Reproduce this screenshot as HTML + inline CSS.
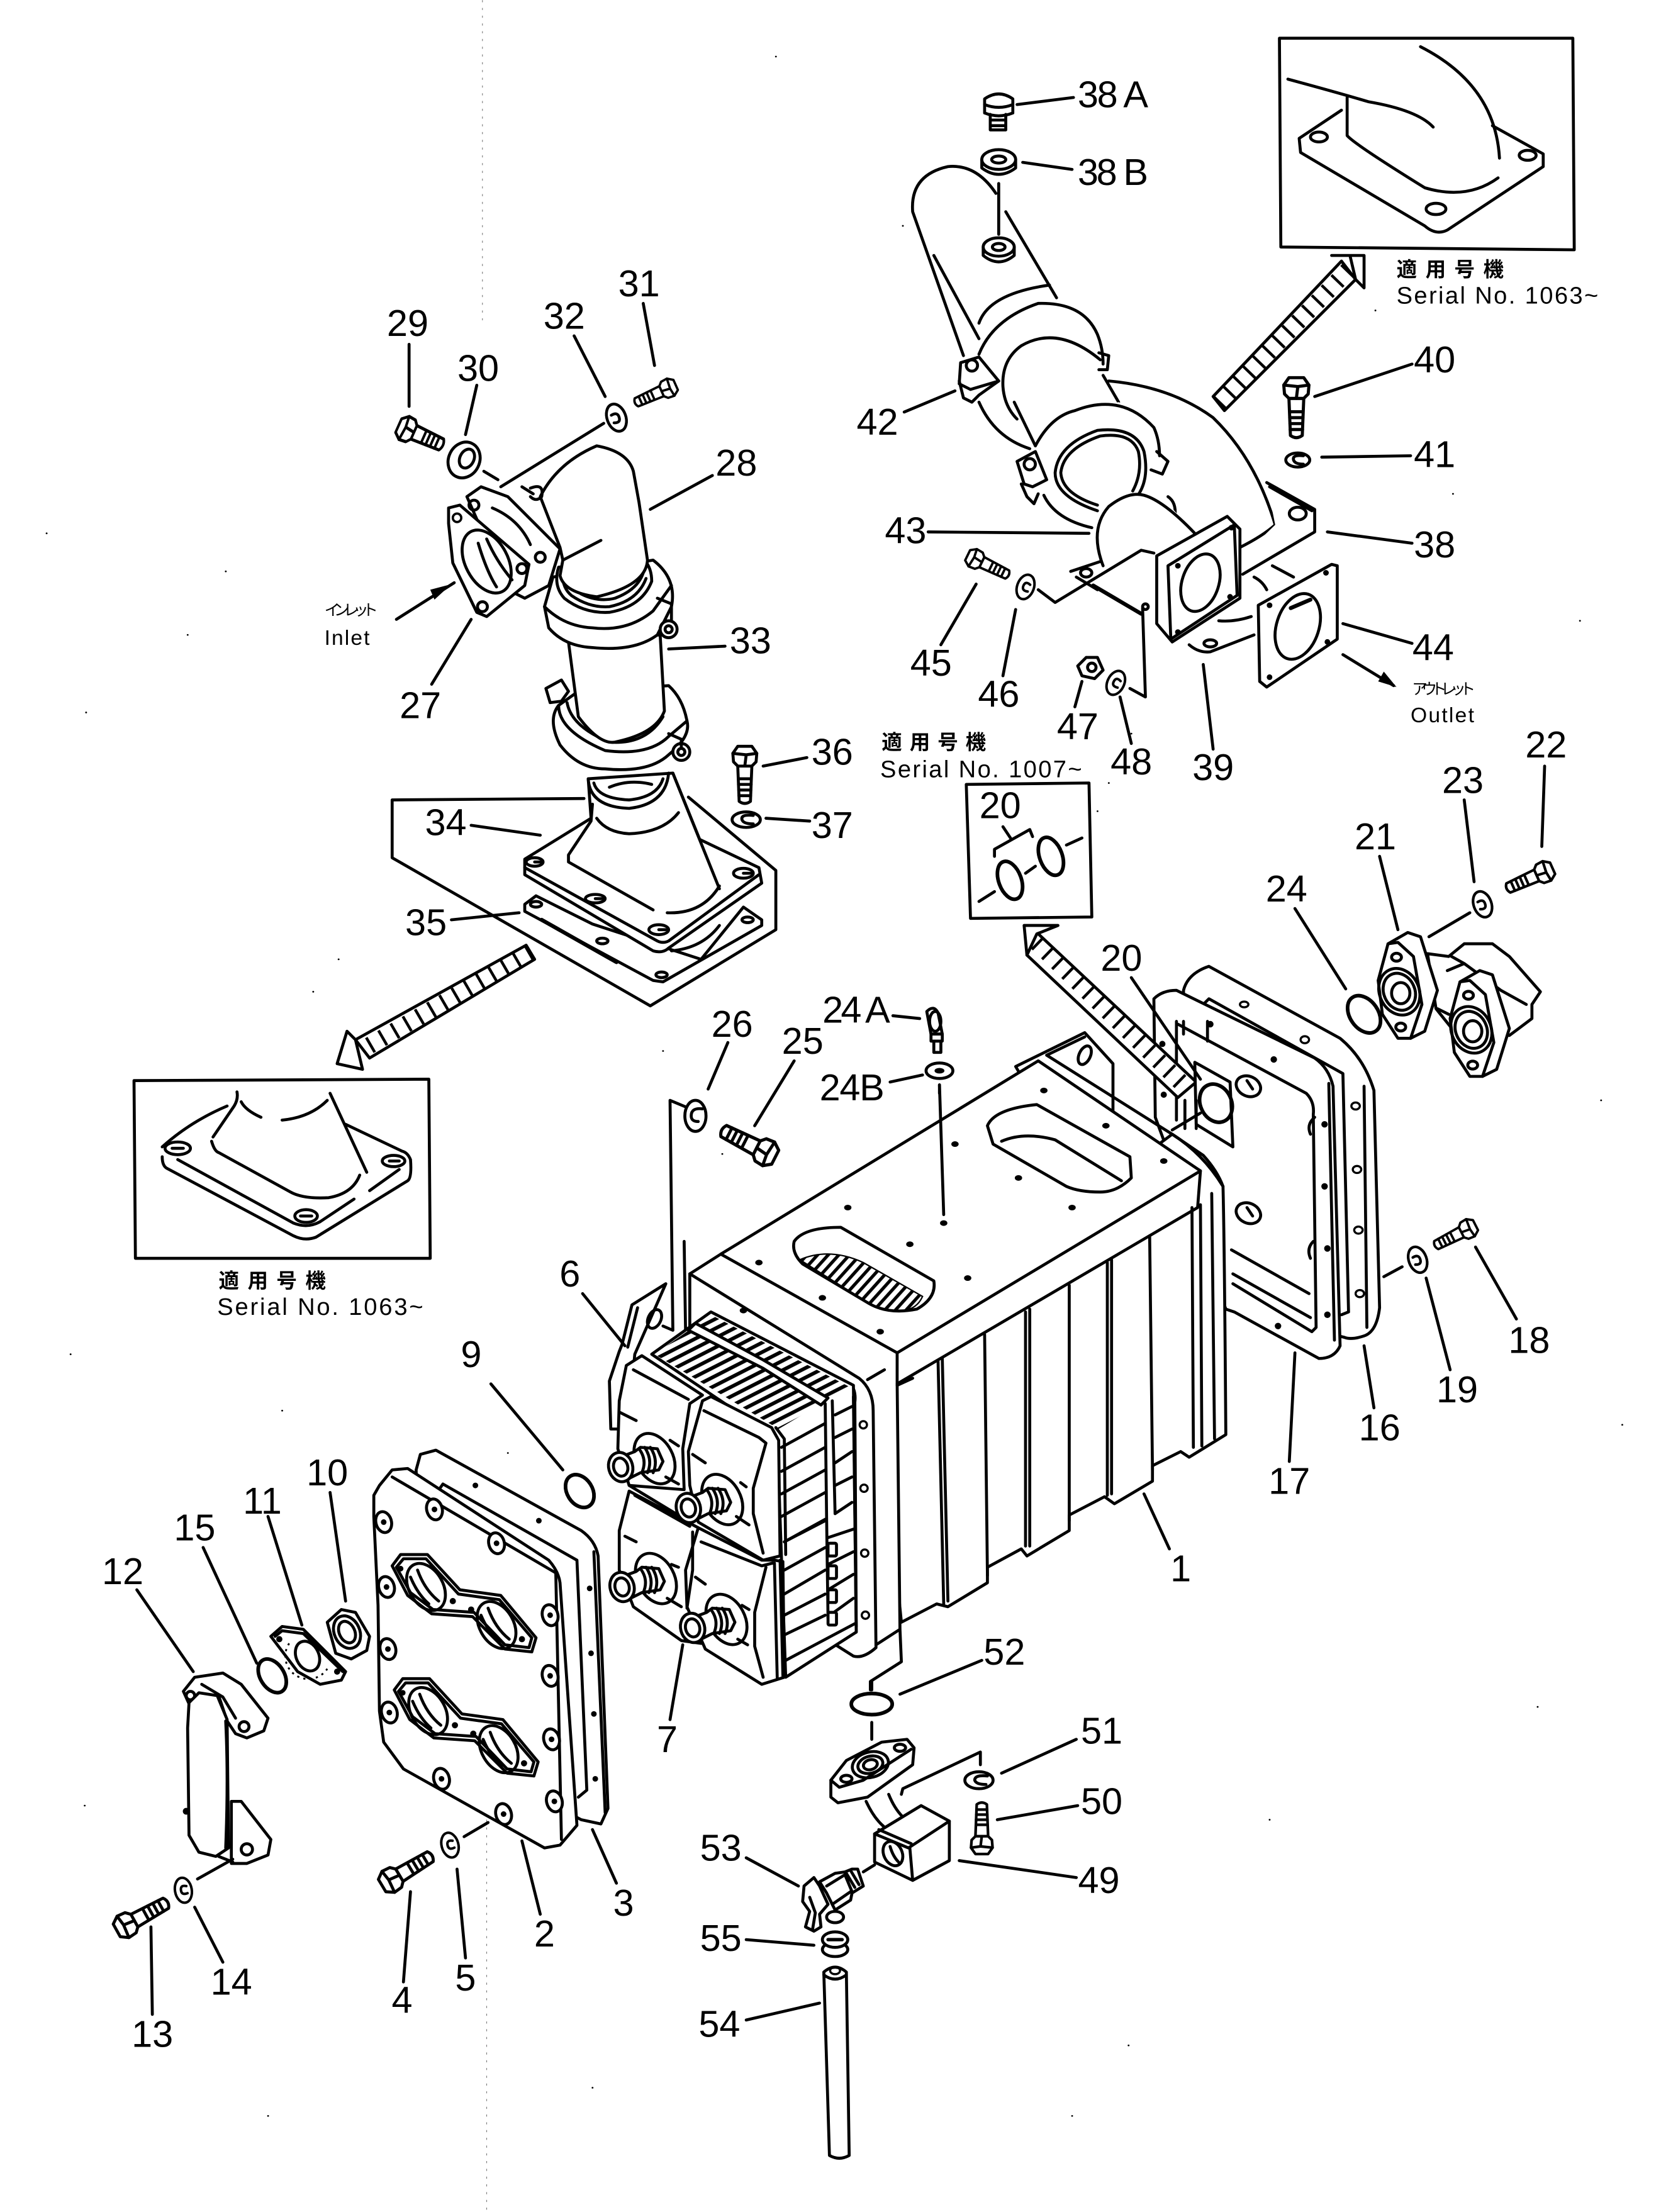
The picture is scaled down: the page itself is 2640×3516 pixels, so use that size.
<!DOCTYPE html>
<html><head><meta charset="utf-8"><style>
html,body{margin:0;padding:0;background:#fff}
svg{display:block;width:2640px;height:3516px}
.s{fill:none;stroke:#000;stroke-width:2.1;stroke-linecap:round;stroke-linejoin:round}
.w{fill:#fff}
.f{fill:#fff;stroke:none}
.r{stroke-width:2.6}
.t{font-family:"Liberation Sans",sans-serif;font-size:26.5px;fill:#000;stroke:none;text-anchor:middle}
.m{font-family:"Liberation Sans",sans-serif;font-size:17px;fill:#000;stroke:none}
.c{font-family:"Liberation Sans","Noto Sans CJK JP",sans-serif;font-size:14.5px;font-weight:700;fill:#000;stroke:none}
</style></head><body>
<svg xmlns="http://www.w3.org/2000/svg" viewBox="0 0 1177.5 1568">
<defs>
<pattern id="h" width="6" height="6" patternUnits="userSpaceOnUse" patternTransform="rotate(-27)"><rect width="6" height="2.6" fill="#000"/></pattern>
<pattern id="h2" width="5.6" height="5.6" patternUnits="userSpaceOnUse" patternTransform="rotate(-48)"><rect width="5.6" height="2.3" fill="#000"/></pattern>
<g id="bolt"><path class="s w" d="M7-5 L32-4 Q35 0 32 4 L7 5Z"/><path class="s" d="M16-4.500V4.500M20-4.500V4.500M24-4.300V4.300M28-4.200V4.200"/><path class="s w" d="M-7-5 L-2-8.500 L4-8 L7-5 L7 5 L4 8 L-2 8.500 L-7 5Z"/><path class="s" d="M-2-8.500 L-1 -1 L-2 8.500M-1-1 L7 0"/></g>
<g id="wash"><ellipse class="s w" rx="7" ry="10.500"/><path class="s" d="M3-3 Q-2-5-2 0 Q-2 4 3 3"/></g>
<g id="nip"><ellipse class="s w" cx="24" cy="-6" rx="13" ry="19" transform="rotate(-28 24 -6)"/><path class="s w" d="M2-8 L10-11 L14-14 L26-13 L30-4 L27 2 L14 4 L4 9Z"/><path class="s" d="M13-13 Q19-5 15 4M17-14 Q23-5 19 4M21-14 Q27-5 23 4"/><ellipse class="s w" rx="8.500" ry="10.500" transform="rotate(-15)"/><ellipse class="s" rx="5" ry="6.500" transform="rotate(-15)"/></g>
<g id="fl21"><path class="s w" d="M984 669 L998 661 L1007 664 L1019 702 L1010 731 L1000 736Z"/><path class="s w" d="M977 695 L984 669 L991 668 L1002 678 L1008 712 L1000 736 L991 736 L980 719Z"/><ellipse class="s" cx="992" cy="703" rx="14" ry="17" transform="rotate(-25 992 703)"/><ellipse class="s" cx="992" cy="703" rx="11" ry="13.500" transform="rotate(-25 992 703)"/><ellipse class="s" cx="993" cy="704" rx="6.500" ry="7.500"/><ellipse class="s" cx="990" cy="678.500" rx="3.500" ry="2.800"/><ellipse class="s" cx="993" cy="728" rx="3.500" ry="2.800"/></g>
<g id="boss"><ellipse class="s w" rx="5.500" ry="7.500" transform="rotate(-15)"/><circle r="2" fill="#000"/></g>
<g id="pl"><path class="s w" d="M278 1110 L284 1102 L303 1102 L326 1127 L355 1131 L380 1161 L377 1171 L358 1169 L335 1146 L306 1144 L289 1131Z"/><path class="s" d="M281 1111 L286 1105 L302 1105 L325 1130 L354 1134 L377 1161 L375 1168 L358 1166 L336 1143 L307 1141 L291 1129Z"/><ellipse class="s" cx="302" cy="1125" rx="12" ry="18" transform="rotate(-30 302 1125)"/><ellipse class="s" cx="352" cy="1152" rx="12" ry="18" transform="rotate(-30 352 1152)"/><path class="s" d="M296 1113 Q301 1127 311 1135M291 1118 Q296 1130 304 1137M346 1140 Q351 1154 361 1162M341 1145 Q346 1157 354 1164"/><circle cx="284" cy="1112" r="2" fill="#000"/><circle cx="321" cy="1135" r="2.200" fill="#000"/><circle cx="334" cy="1141" r="2.200" fill="#000"/><circle cx="370" cy="1162" r="2.200" fill="#000"/></g>
</defs>

<!-- scan specks and dotted lines -->
<path stroke="#777" stroke-width="0.5" stroke-dasharray="1.500 4" fill="none" d="M342 0V230M345 1290V1568"/>
<path class="s" style="stroke-width:1.200" d="M160 405h.1M133 450h.1M61 505h.1M33 378h.1M778 575h.1M786 555h.1M802 520h.1M470 745h.1M360 1030h.1M512 818h.1M240 680h.1M222 703h.1M1120 440h.1M1135 780h.1M1150 1010h.1M1090 1210h.1M900 1290h.1M800 1450h.1M760 1500h.1M420 1480h.1M190 1500h.1M60 1280h.1M50 960h.1M200 1000h.1M975 220h.1M640 160h.1M550 40h.1M1030 350h.1"/>

<!-- INSET TOP RIGHT -->
<path class="s" d="M907 27 L1115 27 L1116 177 L908 175Z"/>
<path class="s" d="M921 98 L951 78M1058 89 L1094 109 L1094 118 L1026 163 Q1018 167 1010 160 L922 108 L921 98"/>
<path class="s" d="M913 56 Q950 66 970 72 Q1005 78 1016 90M1007 33 Q1060 60 1063 112M955 69 V96 Q960 102 1010 133 Q1040 142 1062 126"/>
<ellipse class="s" cx="935" cy="97" rx="6" ry="3.500"/><ellipse class="s" cx="1018" cy="148" rx="7" ry="4"/><ellipse class="s" cx="1083" cy="110" rx="6" ry="3.500"/>
<!-- arrow 1 -->
<path class="s w" d="M860 281 L951 185 L961 198 L868 291Z"/>
<path d="M864 286 L956 191" stroke="#000" stroke-width="12" stroke-dasharray="2 8" fill="none"/>
<path class="s w" d="M944 181 H967 V204 L961 198 L957 181"/>
<!-- ELBOW 38 -->
<path class="f" d="M786 270 Q830 274 860 296 Q890 325 904 372 L879 388 L800 420 L734 316Z"/>
<path class="s" d="M786 270 Q830 274 860 296 Q890 325 904 372 Q895 380 879 388"/>
<path class="f" d="M898 342 L932 361 V377 L881 407 L880 395 L904 372Z"/>
<path class="s" d="M898 342 L932 361 V377 L881 407M900 345 L930 362"/>
<ellipse class="s" cx="920" cy="364" rx="6" ry="4.500"/>
<!-- top pipe -->
<path class="f" d="M706 137 Q692 116 672 118 Q645 124 647 150 L683 252 L694 289 L734 318 L793 285 L749 211 L713 150Z"/>
<path class="s" d="M706 137 Q692 116 672 118 Q645 124 647 150 L683 252M713 150 L749 211M662 181 L694 240"/>
<path class="s" d="M694 229 Q701 208 744 202"/>
<!-- clamp 1 -->
<path class="f" d="M694 253 Q700 234 713 222 Q735 212 763 218 Q778 228 782 255 L786 266 L780 262 Q772 240 748 238 Q725 240 716 250 Q708 262 711 274 L696 277Z"/>
<path class="s" d="M694 251 Q704 226 736 215 Q768 214 778 237 Q782 247 782 258M711 274 Q710 255 724 245 Q750 230 780 255M711 274 Q712 288 721 297M694 285 Q705 310 730 318M719 285 L734 316M782 266 L793 285M779 250 L786 252 L785 262 L779 262"/>
<path class="s w" d="M681 257 L694 253 L708 270 L688 276 L680 272Z"/>
<circle class="s" cx="689" cy="259" r="4"/><path class="s" d="M680 270 L683 282 L689 285 L694 280 L708 270"/>
<!-- clamp 2 -->
<path class="f" d="M734 316 Q750 292 793 285 Q815 292 822 322 L815 360 L780 365 L745 355 L725 335Z"/>
<path class="s" d="M734 316 Q745 295 762 291 Q795 278 818 303 Q822 312 822 323"/>
<path class="s" d="M778 362 Q748 352 748 335 Q750 315 778 305 Q805 302 811 320 Q815 340 806 352M778 358 Q753 350 752 335 Q754 318 780 309 Q802 306 807 320 Q810 335 803 348M740 351 Q748 368 774 374"/>
<path class="s w" d="M721 327 L734 320 L742 340 L732 345 L726 343Z"/>
<circle class="s" cx="730" cy="329" r="4"/>
<path class="s" d="M724 343 L728 352 L733 357 L736 350M820 320 L828 327 L824 336 L816 333"/>
<path class="s" d="M828 352 Q834 356 833 366"/>
<!-- outlet stub -->
<path class="f" d="M786 359 Q800 348 811 351 L828 357 L847 378 L830 420 L786 407 Q772 380 786 359Z"/>
<path class="s" d="M786 359 Q800 348 811 351 Q825 355 847 378M786 359 Q772 375 782 401"/>
<path class="s" d="M759 405 L780 398M763 409 L778 418"/><ellipse class="s" cx="770" cy="406" rx="4" ry="3"/>
<path class="s" d="M775 415 L809 435" style="stroke-width:2.800"/>
<path class="s" d="M736 418 L748 427 L809 390 L818 392"/>
<path class="s w" d="M820 394 L870 366 L879 375 L879 424 L831 455 L820 442Z"/>
<path class="s" d="M828 401 L875 372 L877 422 L830 453Z"/>
<ellipse class="s" cx="851" cy="413" rx="13" ry="21" transform="rotate(18 851 413)"/>
<circle cx="835" cy="401" r="2" fill="#000"/><circle cx="873" cy="374" r="2" fill="#000"/><circle cx="872" cy="423" r="2" fill="#000"/><circle cx="835" cy="448" r="2" fill="#000"/>
<path class="s" d="M843 457 Q850 463 858 462 L889 450M864 440 Q875 441 887 437"/><ellipse class="s" cx="858" cy="456" rx="4.500" ry="2.500"/>
<path class="s" d="M810 431 L812 494 L801 488"/><circle class="s" cx="812" cy="430" r="2"/>
<!-- 44 gasket -->
<path class="s w" d="M892 429 L944 400 L948 401 L948 453 L898 487 L893 483Z"/>
<ellipse class="s" cx="920" cy="444" rx="15" ry="24" transform="rotate(18 920 444)"/>
<path class="s" d="M915 431 L929 425" style="stroke-width:2.800"/>
<circle cx="900" cy="429" r="2" fill="#000"/><circle cx="940" cy="406" r="2" fill="#000"/><circle cx="941" cy="455" r="2" fill="#000"/><circle cx="900" cy="480" r="2" fill="#000"/>
<path class="s" d="M889 409 Q895 412 898 418M902 401 L917 409"/>
<path class="s" d="M952 464 L988 486"/><path d="M990 487 L977 483 L981 476Z" fill="#000"/>
<!-- parts top -->
<path class="s w" d="M698 70 Q708 63 718 70 V80 Q708 84 698 80Z"/><path class="s" d="M702 81 V92 H713 V81M702 85 H713M702 89 H713M698 74 Q708 78 718 74"/>
<path class="s w" d="M696 113 V119 Q708 128 720 119 V113"/><ellipse class="s w" cx="708" cy="113" rx="12" ry="7"/><ellipse class="s" cx="708" cy="113" rx="5" ry="2.500"/>
<path class="s" d="M708 130 V166"/>
<path class="s w" d="M697 175 V181 Q708 190 719 181 V175"/><ellipse class="s w" cx="708" cy="175" rx="11" ry="6.500"/><ellipse class="s" cx="708" cy="175" rx="4.500" ry="2.500"/>
<use href="#bolt" transform="translate(919 275) rotate(90) scale(1.050)"/>
<ellipse class="s" cx="920" cy="326" rx="8.500" ry="5"/><path class="s" d="M924 323 Q916 322 917 326 Q918 329 924 329"/>
<use href="#bolt" transform="translate(691 396) rotate(26) scale(.8)"/>
<use href="#wash" transform="translate(727 416) rotate(20) scale(.85)"/>
<path class="s" d="M770 466 L778 466 L782 475 L776 481 L767 479 L764 472Z"/><circle class="s" cx="774" cy="473" r="3"/>
<use href="#wash" transform="translate(791 484) rotate(25) scale(.85)"/>
<!-- leaders top -->
<path class="s" d="M721 74 L761 69M725 115 L760 120M932 281 L1001 258M937 324 L1000 323M641 292 L677 277M658 377 L772 378M941 377 L1001 385M952 442 L1001 456M692 414 L667 457M720 432 L711 479M767 483 L762 501M794 494 L802 527M853 471 L860 531"/>

<!-- LEFT ASSEMBLY 27-37 -->
<path class="s" d="M414 566 L278 567 V608 L461 713 L550 659 V617 L488 565"/>
<!-- gasket 35 -->
<path class="s w" d="M372 641 L380 635 L420 655 L497 680 L527 643 L540 652 V656 L470 696 L463 695 L372 646Z"/>
<ellipse class="s" cx="380" cy="641" rx="4" ry="2"/><ellipse class="s" cx="427" cy="667" rx="4" ry="2"/><ellipse class="s" cx="469" cy="691" rx="4" ry="2"/><ellipse class="s" cx="530" cy="652" rx="4" ry="2"/>
<path class="s" style="stroke-width:2.800" d="M384 652 L437 682"/>
<path class="s" d="M476 674 Q498 672 510 656"/>
<!-- plate 34 -->
<path class="s w" d="M419 580 L372 609 V620 L463 674 Q470 676 474 672 L540 626 L538 615 L496 595 L477 548 L417 552Z"/>
<path class="s" d="M372 615 L466 667 Q470 669 474 667 L538 620"/>
<ellipse class="s" cx="379" cy="611" rx="6" ry="3"/><ellipse class="s" cx="422" cy="637" rx="7" ry="3"/><ellipse class="s" cx="467" cy="659" rx="7" ry="3.500"/><ellipse class="s" cx="527" cy="619" rx="7" ry="3.500"/>
<path class="s" d="M379 611 H384M422 637 H427M467 659 H472M527 619 H532"/>
<path class="s" d="M420 570 L419 582 L403 606 V611 L463 645M477 548 L510 630M423 580 Q430 590 446 591 Q470 590 481 576M473 647 Q498 648 510 628"/>
<path class="s" d="M417 552 Q418 572 446 573 Q472 570 474 548M421 555 Q424 566 446 567 Q466 565 470 552M432 558 Q446 552 462 556"/>
<!-- lower clamp -->
<path class="s w" d="M396 500 Q388 510 397 528 Q410 545 429 545 Q460 548 474 535 Q490 522 487 511 Q484 495 474 486 L410 490Z"/>
<path class="s" d="M396 500 Q396 518 429 532 Q460 536 474 522 L487 511M402 498 Q405 515 432 526 Q458 528 470 508"/>
<path class="s w" d="M387 488 L398 482 L403 490 L398 497 L390 498Z"/>
<circle class="s w" cx="483" cy="533" r="6"/><circle class="s" cx="483" cy="533" r="2.500"/>
<path class="s" d="M474 520 L483 524 L483 530"/>
<!-- middle pipe -->
<path class="s w" d="M403 455 L410 508 Q425 528 436 526 Q465 520 471 504 L468 450Z"/>
<!-- upper clamp -->
<path class="s w" d="M392 409 L386 430 L389 445 Q400 458 420 459 Q450 462 466 450 L476 430 Q480 410 463 397Z"/>
<path class="s" d="M386 430 Q400 444 420 445 Q445 448 463 433L476 415"/>
<path class="s w" d="M396 402 Q392 415 400 424 Q414 435 432 434 Q455 430 462 412 Q462 402 456 396Z"/>
<path class="s" d="M399 405 Q398 416 405 422 Q418 431 432 430 Q452 426 458 410M403 406 Q404 416 412 421 Q424 427 436 424 Q452 418 456 406"/>
<circle class="s w" cx="474" cy="446" r="6"/><circle class="s" cx="474" cy="446" r="2.500"/><path class="s" d="M466 424 L476 428 L476 440"/>
<!-- elbow 28 -->
<path class="s w" d="M383 352 Q395 328 423 316 Q445 320 449 334 L453 356 L459 397 Q458 415 423 423 Q400 420 397 408 L399 397 L397 388Z"/>
<path class="s" d="M399 397 L426 383"/>
<path class="s" d="M343 334 L353 340"/>
<path class="s" d="M428 300 L355 345M370 345 L378 350 M376 346 Q386 342 384 352 Q380 356 376 352"/>
<!-- flange 27-28 -->
<path class="s w" d="M331 352 L341 345 L360 352 L397 389 L389 415 L372 424 L360 418 Z"/>
<path class="s w" d="M318 360 L326 358 L375 400 L372 415 L345 437 L338 434 L321 399 L318 371Z"/>
<ellipse class="s" cx="345" cy="398" rx="15" ry="24" transform="rotate(-28 345 398)"/>
<path class="s" d="M339 385 Q345 405 352 416M345 382 Q352 398 363 411"/>
<circle cx="324" cy="367" r="3" fill="none" stroke="#000" stroke-width="1.600"/><circle class="s" cx="370" cy="403" r="3.500"/><circle class="s" cx="342" cy="430" r="3.500"/><circle class="s" cx="336" cy="358" r="3.500"/><circle class="s" cx="383" cy="395" r="3.500"/>
<path class="s" d="M349 360 Q368 368 376 386"/>
<use href="#bolt" transform="translate(288 304) rotate(24) scale(.85 1.050)"/>
<ellipse class="s w" cx="329" cy="326" rx="11" ry="13" transform="rotate(25 329 326)"/><ellipse class="s" cx="331" cy="325" rx="5" ry="7" transform="rotate(25 331 325)"/>
<use href="#bolt" transform="translate(474 275) rotate(156) scale(.78)"/>
<use href="#wash" transform="translate(437 296) rotate(160) scale(.95)"/>
<use href="#bolt" transform="translate(528 536) rotate(90) scale(1)"/>
<ellipse class="s" cx="529" cy="581" rx="10" ry="5.500"/><path class="s" d="M534 578 Q525 577 526 581 Q527 584 534 584"/>
<path class="s" d="M290 244 V288M338 273 L330 308M456 215 L464 259M407 238 L429 281M461 361 L505 337M474 460 L514 458M334 439 L306 485M281 439 L322 413M334 585 L383 592M320 652 L368 647M541 543 L572 537M543 580 L574 582"/>
<path d="M320 414 L305 418 L308 425Z" fill="#000"/>
<!-- arrow 2 -->
<path class="s w" d="M373 670 L379 680 L262 750 L252 737Z"/>
<path d="M376 675 L257 744" stroke="#000" stroke-width="12" stroke-dasharray="2 8" fill="none"/>
<path class="s w" d="M246 731 L239 754 L257 758 L252 737Z"/>
<!-- INSET LEFT -->
<path class="s" d="M95 766 L304 765 L305 892 L96 892Z"/>
<path class="s" d="M115 813 Q135 795 161 784M115 820 Q115 826 118 828 L208 876 Q216 880 224 877 L289 837 Q292 835 291 822 Q289 817 285 816 L245 797M126 822 L208 867 Q218 871 227 866 L251 850M262 844 L283 829M168 774 Q169 779 166 784 L151 806M150 809 Q152 816 155 817 L206 845 Q215 850 233 849 Q250 846 255 833M234 775 L260 831M171 781 Q174 787 185 792M200 794 Q220 792 232 780"/>
<ellipse class="s" cx="126" cy="814" rx="9" ry="4.500"/><ellipse class="s" cx="217" cy="862" rx="8" ry="4.500"/><ellipse class="s" cx="279" cy="823" rx="8" ry="4"/>
<path class="s" d="M122 814 H130M213 862 H221M276 823 H283"/>

<!-- REAR COVERS -->
<path class="s w" d="M839 702 Q842 690 857 685 L950 736 Q967 750 974 773 L978 927 Q976 944 967 947 Q958 950 953 948 L880 930 L840 800Z"/>
<path class="s" d="M967 770 L969 941M853 712 L857 708 L952 761 L956 930 L951 932"/>
<g fill="none" stroke="#000" stroke-width="1.500"><ellipse cx="882" cy="712" rx="3" ry="2"/><ellipse cx="925" cy="737" rx="3" ry="2.500"/><ellipse cx="961" cy="784" rx="3" ry="2.500"/><ellipse cx="962" cy="829" rx="3" ry="2.500"/><ellipse cx="963" cy="872" rx="3" ry="2.500"/><ellipse cx="964" cy="917" rx="3" ry="2.500"/></g>
<path class="s w" d="M818 708 Q824 702 834 702 L932 750 Q942 757 945 770 L950 954 Q946 963 935 963 L875 930 L869 928 L819 792Z"/>
<path class="s" d="M942 768 L946 950M835 726 L926 775 Q932 781 931 790 L933 941 L930 944 L874 910M873 886 L928 917M874 903 L929 934M834 724 V794"/>
<circle cx="858" cy="726" r="2.300" fill="#000"/><circle cx="903" cy="751" r="2.300" fill="#000"/><circle cx="939" cy="797" r="2.300" fill="#000"/><circle cx="939" cy="841" r="2.300" fill="#000"/><circle cx="941" cy="885" r="2.300" fill="#000"/><circle cx="941" cy="932" r="2.300" fill="#000"/><circle cx="906" cy="940" r="2.300" fill="#000"/>
<ellipse class="s" cx="885" cy="770" rx="9" ry="7" transform="rotate(25 885 770)"/><ellipse class="s" cx="885" cy="860" rx="9" ry="7" transform="rotate(25 885 860)"/>
<path class="s" d="M884 766 L888 772M884 856 L888 862M932 792 Q926 797 929 804M931 880 Q926 885 929 892"/>
<!-- arrow 3 -->
<path class="s w" d="M735 661 L848 767 L835 778 L728 677Z"/>
<path d="M735 668 L841 771" stroke="#000" stroke-width="12" stroke-dasharray="2 8" fill="none"/>
<path class="s w" d="M726 656 H750 L735 662 L728 677Z"/>
<!-- plate in back -->
<path class="s w" d="M847 753 L872 767 L874 813 L848 797Z"/>
<ellipse class="s r" cx="862" cy="782" rx="11" ry="14" transform="rotate(-25 862 782)"/>
<path class="s" d="M831 801 L851 789M802 693 L851 765M839 724 V733M856 724 V738M840 780 V800M848 780 V800"/>
<circle cx="824" cy="740" r="2.200" fill="#000"/><circle cx="825" cy="776" r="2.200" fill="#000"/>
<!-- right parts -->
<path class="s w" d="M1012 676 L1027 678 L1038 669 H1058 L1070 678 L1092 703 L1086 712 V722 L1070 734 L1030 730 L1018 715Z"/>
<path class="s" d="M1029 678 L1038 683 L1064 702 L1082 712M1026 688 L1038 683M1019 715 L1027 719"/>
<use href="#fl21"/>
<use href="#fl21" transform="translate(51 27)"/>
<use href="#bolt" transform="translate(1095 618) rotate(156) scale(.88)"/>
<use href="#wash" transform="translate(1051 641) rotate(160) scale(.9)"/>
<ellipse class="s r" cx="967" cy="719" rx="10" ry="14.500" transform="rotate(-35 967 719)"/>
<use href="#bolt" transform="translate(1041 871) rotate(153) scale(.8)"/>
<use href="#wash" transform="translate(1005 893) rotate(160) scale(.9)"/>
<path class="s" d="M1095 543 L1093 600M1038 567 L1045 625M978 607 L991 659M1013 664 L1042 647M918 644 L954 701M1046 884 L1075 935M1011 906 L1028 971M981 905 L994 898M967 954 L974 998M918 959 L914 1036"/>

<!-- MAIN BODY -->
<path class="s w" d="M720 756 L769 732 L789 754 V790 L740 790Z"/>
<ellipse class="s" cx="769" cy="748" rx="4" ry="7" transform="rotate(25 769 748)"/>
<path class="s" d="M742 748 L769 735"/>
<path class="s w" d="M639 1150 L664 1137 L672 1139 L700 1122 V1111 L724 1098 L728 1103 L758 1085 V1074 L783 1061 L790 1066 L817 1050 V1039 L837 1029 L843 1033 L869 1017 Q868 880 867 841 Q863 830 853 819 L831 804 L620 960Z"/>
<path class="s" d="M859 846 L861 1020"/>
<path class="s" d="M668 963 L672 1135M665 965 L669 1137M698 946 L700 1117M730 928 V1096M727 930 V1096M758 911 V1078M788 893 V1059M785 895 V1060M815 876 L817 1042M845 856 L846 1026M851 854 L852 1025"/>
<!-- front frame -->
<path class="f" d="M489 903 L511 889 L636 959 V981 L638 1155 L639 1178 L617 1192 L605 1174 L586 1162 L489 1090Z"/>
<path class="s" d="M489 903 L609 977 Q619 985 619 1000 L621 1168 Q612 1176 605 1174 L586 1162"/>
<path class="s" d="M493 938 L603 981 Q607 986 606 994 L607 1153 L598 1154"/>
<path class="s" d="M636 981 L638 1155 L639 1178 L617 1192 V1198M621 1166 L638 1155"/>
<path class="s" d="M489 903 V941"/>
<path class="s w" d="M511 889 L736 752 L851 830 L636 959Z"/>
<path class="s" d="M636 959 V981 L849 856 L851 830"/>
<path class="s" d="M742 748 L831 804 Q853 818 867 841"/>
<path class="s" d="M489 903 L511 889"/>
<path class="s w" d="M563 880 Q570 870 596 870 L662 908 Q664 920 650 928 Q630 932 616 924 L569 896Q561 888 563 880Z"/>
<path d="M567 893 Q588 884 612 895 L654 919 Q650 928 640 929 Q625 930 616 924Z" fill="url(#h2)" stroke="#000" stroke-width="1"/>
<path class="s w" d="M700 798 Q705 786 735 783 L801 820 L802 835 Q792 845 780 845 Q765 845 756 841 L704 811 Z"/>
<path class="s" d="M710 809 Q726 802 748 808 L795 837"/>
<g fill="#000"><ellipse cx="601" cy="856" rx="2.600" ry="2"/><ellipse cx="677" cy="811" rx="2.600" ry="2"/><ellipse cx="740" cy="773" rx="2.600" ry="2"/><ellipse cx="784" cy="798" rx="2.600" ry="2"/><ellipse cx="825" cy="823" rx="2.600" ry="2"/><ellipse cx="760" cy="856" rx="2.600" ry="2"/><ellipse cx="722" cy="835" rx="2.600" ry="2"/><ellipse cx="669" cy="867" rx="2.600" ry="2"/><ellipse cx="645" cy="882" rx="2.600" ry="2"/><ellipse cx="686" cy="906" rx="2.600" ry="2"/><ellipse cx="624" cy="944" rx="2.600" ry="2"/><ellipse cx="583" cy="920" rx="2.600" ry="2"/><ellipse cx="538" cy="895" rx="2.600" ry="2"/><ellipse cx="527" cy="929" rx="2.600" ry="2"/></g>
<path class="s" d="M666 769 L669 861"/>
<path class="s" d="M615 978 L627 971M636 982 L647 977"/>
<g fill="none" stroke="#000" stroke-width="1.500"><ellipse cx="612" cy="1010" rx="2.600" ry="2.600"/><ellipse cx="612.500" cy="1055" rx="2.600" ry="2.600"/><ellipse cx="613" cy="1101" rx="2.600" ry="2.600"/><ellipse cx="613.500" cy="1145" rx="2.600" ry="2.600"/></g>
<!-- bracket left -->
<path class="s w" d="M472 910 L448 925 L441 953 L439 958 L432 979 L433 1013 L445 1013 L450 960Z"/>
<path class="s" d="M452 927 L445 955"/>
<ellipse class="s" cx="464" cy="935" rx="4.500" ry="7" transform="rotate(25 464 935)"/>
<path class="s" d="M487 785 L475 780 L477 943 L470 940M485 880 L486 943"/>
<!-- radiator core -->
<path class="s w" d="M462 960 L504 930 L605 982 L607 1157 L557 1189 L551 1020Z"/>
<path d="M464 960 L504 932 L602 983 L552 1013Z" fill="url(#h)"/>
<path class="s w" d="M493 938 L541 964 L587 991 L582 996 L541 970 L488 943Z"/>
<path class="s" d="M554 1026 L585 1009M554 1043 L585 1026M554 1059 L585 1042M554 1075 L585 1058M556 1093 L585 1077M556 1113 L585 1097M556 1130 L585 1113M556 1145 L585 1130M556 1159 L585 1145M557 1177 L606 1151M592 1003 L604 997M592 1019 L604 1013M592 1037 L604 1029M592 1053 L604 1047M592 1073 L604 1065M587 1090 L605 1084M587 1109 L605 1100M587 1127 L605 1116M587 1146 L605 1133"/>
<path class="s" d="M585 995 L586 1077 L587 1147M590 993 L592 1073M605 990 L607 1157M556 1093 L585 1078"/>
<g class="s"><rect x="587" y="1094" width="6" height="9" rx="1" fill="#fff"/><rect x="587" y="1110" width="6" height="9" rx="1" fill="#fff"/><rect x="587" y="1127" width="6" height="9" rx="1" fill="#fff"/><rect x="587" y="1143" width="6" height="9" rx="1" fill="#fff"/></g>
<!-- caps -->
<path class="s w" d="M439 993 L444 968 L455 961 L498 989 L489 995 L484 1027 L485 1056 L446 1053 L438 1027Z"/>
<path class="s" d="M449 971 L488 992M446 1053 L489 1079"/>
<path class="s w" d="M498 993 L504 990 L547 1012 L552 1021 L553 1103 L541 1106 L495 1079 L489 1053 L488 1029Z"/>
<path class="s" d="M550 1012 L556 1020 L557 1102M499 1000 L538 1019 L543 1023 L534 1055 L534 1073 L541 1101"/>
<path class="s w" d="M446 1057 L439 1085 V1113 L449 1139 L483 1163 L497 1165 L490 1109 L495 1083Z"/>
<path class="s w" d="M495 1083 L540 1106 L549 1106 L555 1107 L556 1189 L540 1194 L500 1169 L487 1139 L486 1113Z"/>
<path class="s" d="M450 1060 L489 1082M491 1086 L491 1113 L487 1140M497 1093 L540 1110L548 1108 M543 1111 L535 1143 V1167 L541 1189M549 1108 L551 1190M553 1106 L555 1188"/>
<use href="#nip" transform="translate(440 1040)"/>
<use href="#nip" transform="translate(488 1069)"/>
<use href="#nip" transform="translate(441 1125)"/>
<use href="#nip" transform="translate(491 1154)"/>
<path class="s" d="M439 1001 L451 1007M475 1021 L481 1025M472 1047 L481 1052M491 1031 L500 1037M525 1051 L529 1054M522 1075 L531 1081M443 1089 L451 1093M476 1109 L481 1111M473 1133 L483 1139M493 1118 L500 1123M526 1138 L531 1141M523 1162 L530 1166"/>

<!-- top small parts -->
<path class="s w" d="M657 717 Q662 712 665 718 L668 733 L660 733 Z"/>
<ellipse class="s" cx="663" cy="724" rx="4" ry="7"/>
<path class="s" d="M660 733 H668 V738 H660ZM662 738 V746 H667 V738"/>
<ellipse class="s" cx="666" cy="759" rx="9.500" ry="5.500"/><ellipse cx="666" cy="759" rx="3.500" ry="2" fill="#000"/>
<ellipse class="s w" cx="493" cy="791" rx="7.500" ry="11"/><path class="s" d="M498 786 Q490 785 490 791 Q490 795 495 795"/>
<use href="#bolt" transform="translate(543 817) rotate(207) scale(1.050 1.100)"/>
<path class="s" d="M633 720 L652 722M631 767 L654 762M666 769 V775M516 739 L502 772M563 752 L535 798M413 917 L443 954M811 1059 L829 1098"/>
<!-- box 20 -->
<path class="s" d="M685 556 L772 555 L774 650 L688 651Z"/>
<path class="s" d="M705 607 L705 602 L730 588 L732 593M711 586 L717 595"/>
<ellipse class="s r" cx="716" cy="624" rx="8" ry="14" transform="rotate(-20 716 624)"/>
<ellipse class="s r" cx="745" cy="607" rx="8" ry="14" transform="rotate(-20 745 607)"/>
<path class="s" d="M694 639 L705 632M727 619 L734 614M756 599 L767 594"/>

<!-- LEFT COVER -->
<path class="s w" d="M295 1042 L298 1031 L309 1028 L412 1085 Q422 1092 424 1103 L431 1282 L426 1293 L412 1290 L300 1230Z"/>
<path class="s" d="M309 1059 L314 1052 L409 1106 L416 1269 L410 1274M421 1100 L429 1285"/>
<g fill="#000"><circle cx="337" cy="1053" r="2"/><circle cx="382" cy="1078" r="2"/><circle cx="418" cy="1126" r="2"/><circle cx="419" cy="1172" r="2"/><circle cx="421" cy="1215" r="2"/><circle cx="422" cy="1261" r="2"/></g>
<path class="s w" d="M265 1060 L269 1053 L278 1042 L289 1041 L389 1106 Q396 1114 397 1122 L409 1294 L397 1308 L386 1310 L286 1254 L272 1235 L269 1213 L268 1138 L265 1075Z"/>
<path class="s" d="M278 1047 L394 1115 L398 1304"/>
<use href="#boss" transform="translate(308 1070)"/><use href="#boss" transform="translate(352 1094)"/><use href="#boss" transform="translate(272 1079)"/><use href="#boss" transform="translate(274 1125)"/><use href="#boss" transform="translate(275 1169)"/><use href="#boss" transform="translate(276 1214)"/><use href="#boss" transform="translate(390 1145)"/><use href="#boss" transform="translate(390 1188)"/><use href="#boss" transform="translate(391 1233)"/><use href="#boss" transform="translate(393 1277)"/><use href="#boss" transform="translate(313 1261)"/><use href="#boss" transform="translate(357 1286)"/>
<use href="#pl"/><use href="#pl" transform="translate(1.500 88)"/>
<!-- U pipe -->
<path class="s w" d="M164 1277 H171 L192 1304 L190 1315 L175 1321 L164 1321Z"/>
<circle class="s" cx="175" cy="1311" r="4"/>
<path class="s w" d="M130 1199 L138 1189 L158 1186 L171 1194 L190 1218 L187 1227 L175 1232 L167 1229 L161 1220 L155 1202 L135 1210Z"/>
<circle class="s" cx="135" cy="1202" r="3"/><circle class="s" cx="173" cy="1224" r="3.500"/>
<path class="s" d="M143 1194 L158 1203 L167 1218"/>
<path class="s w" d="M134 1207 L141 1200 L154 1202 L161 1219 L162 1310 L153 1316 L141 1313 L134 1301 L133 1225Z"/>
<circle cx="132" cy="1284" r="2.400" fill="#000"/>
<path class="s" d="M160 1220 Q162 1260 160 1310M155 1316 L165 1320"/>
<ellipse class="s r" cx="193" cy="1188" rx="8.500" ry="13" transform="rotate(-32 193 1188)"/>
<path class="s w" d="M192 1160 L200 1153 L215 1155 L245 1185 L242 1191 L227 1194 L211 1185Z"/>
<path class="s" d="M195 1160 L200 1156 L215 1158 L243 1185"/>
<ellipse class="s" cx="218" cy="1174" rx="8" ry="11" transform="rotate(-25 218 1174)"/>
<circle cx="198" cy="1162" r="2.200" fill="#000"/><circle cx="239" cy="1185" r="2.200" fill="#000"/>
<path stroke="#000" stroke-width="1.300" stroke-dasharray="1.500 3" fill="none" d="M205 1165 A16 16 0 1 0 232 1183"/>
<path class="s w" d="M232 1150 L242 1141 L252 1143 L262 1160 L260 1170 L249 1176 L238 1172Z"/>
<ellipse class="s" cx="246" cy="1157" rx="9" ry="12" transform="rotate(-25 246 1157)"/>
<ellipse class="s" cx="246" cy="1157" rx="5.500" ry="8" transform="rotate(-25 246 1157)"/>
<ellipse class="s w r" cx="411" cy="1057" rx="9" ry="12.500" transform="rotate(-32 411 1057)"/>
<use href="#bolt" transform="translate(89 1365) rotate(-29) scale(1.020)"/>
<use href="#wash" transform="translate(130 1340) rotate(-10) scale(.85)"/>
<use href="#bolt" transform="translate(277 1333) rotate(-31) scale(1.020)"/>
<use href="#wash" transform="translate(319 1308) rotate(-15) scale(.85)"/>
<path class="s" d="M97 1127 L137 1185M144 1097 L182 1179M190 1075 L214 1152M234 1058 L245 1135M107 1366 L108 1428M138 1352 L158 1391M140 1332 L165 1318M291 1341 L286 1405M324 1325 L330 1388M329 1302 L346 1292M370 1305 L383 1357M420 1297 L437 1335M348 981 L399 1042M484 1166 L475 1219"/>

<!-- DRAIN -->
<ellipse class="s r" cx="618" cy="1208" rx="14.500" ry="7.500"/>
<path class="s" d="M618 1198 V1192M618 1221 V1233M638 1201 L696 1177"/>
<path class="s" d="M614 1277 Q620 1290 628 1296M630 1272 Q634 1282 640 1288"/>
<path class="s w" d="M589 1262 L600 1248 L625 1235 L643 1233 L648 1239 L647 1251 L615 1274 L594 1278 L589 1274Z"/>
<path class="s" d="M589 1262 L595 1267 L612 1262 L646 1240"/>
<ellipse class="s" cx="617" cy="1251" rx="13" ry="9" transform="rotate(-15 617 1251)"/><ellipse class="s" cx="617" cy="1251" rx="9" ry="6" transform="rotate(-15 617 1251)"/><ellipse class="s" cx="617" cy="1251" rx="5" ry="3.500" transform="rotate(-15 617 1251)"/>
<ellipse class="s" cx="600" cy="1261" rx="4" ry="2.500"/><ellipse class="s" cx="638" cy="1239" rx="4" ry="2.500"/>
<path class="s w" d="M620 1300 L653 1280 L673 1291 V1319 L647 1333 L620 1320Z"/>
<path class="s" d="M620 1300 L644 1310 L673 1291M645 1310 L647 1333M623 1297 L646 1307"/>
<ellipse class="s" cx="633" cy="1314" rx="6.500" ry="9" transform="rotate(-25 633 1314)"/><path class="s" d="M631 1309 Q633 1316 637 1320"/>
<path class="s" d="M639 1272 L640 1268 L695 1242 V1251"/>
<ellipse class="s" cx="694" cy="1262" rx="10" ry="6"/><path class="s" d="M700 1259 Q691 1258 691 1262 Q692 1265 699 1265"/>
<use href="#bolt" transform="translate(696 1308) rotate(-90) scale(.9)"/>
<path class="s" d="M680 1319 L763 1331M707 1290 L764 1280M710 1257 L763 1233"/>
<path class="s" d="M612 1327 L620 1322M529 1317 L566 1337M529 1375 L577 1379M529 1432 L581 1420"/>
<ellipse class="s w" cx="592" cy="1359" rx="6" ry="4"/>
<path class="s w" d="M581 1334 L592 1328 L599 1327 L604 1325 L608 1325 L612 1337 L604 1342 L603 1347 L592 1354 L586 1342Z"/>
<path class="s" d="M586 1337 L599 1329 L604 1341M590 1350 L603 1341M600 1328 L606 1338M603 1326 L609 1336"/>
<path class="s w" d="M570 1337 L577 1331 L581 1337 L587 1350 L581 1357 L582 1366 L577 1369 L571 1366 L574 1355 L569 1348Z"/>
<path class="s" d="M574 1345 L578 1356 L576 1368"/>
<ellipse class="s w" cx="592" cy="1382" rx="9" ry="5"/>
<ellipse class="s w" cx="592" cy="1375" rx="9" ry="5.500"/><path class="s" style="stroke-width:2.400" d="M587 1375 H597"/>
<path class="s w" d="M584 1398 Q592 1391 600 1398 L602 1528 Q595 1532 588 1528Z"/>
<path class="s" d="M584 1400 Q592 1406 600 1400"/><ellipse cx="592" cy="1397" rx="3.500" ry="2.500" fill="none" stroke="#000" stroke-width="1.500"/>

<!-- NUMBERS -->
<g class="t">
<text class="t" x="789" y="76" textLength="50">38 A</text><text class="t" x="789" y="131" textLength="50">38 B</text>
<text class="t" x="1017" y="264">40</text><text class="t" x="1017" y="331">41</text><text class="t" x="622" y="308">42</text><text class="t" x="642" y="385">43</text><text class="t" x="1017" y="395">38</text><text class="t" x="1016" y="468">44</text><text class="t" x="660" y="479">45</text><text class="t" x="708" y="501">46</text><text class="t" x="764" y="524">47</text><text class="t" x="802" y="549">48</text><text class="t" x="860" y="553">39</text>
<text class="t" x="289" y="238">29</text><text class="t" x="339" y="270">30</text><text class="t" x="453" y="210">31</text><text class="t" x="400" y="233">32</text><text class="t" x="522" y="337">28</text><text class="t" x="532" y="463">33</text><text class="t" x="298" y="509">27</text><text class="t" x="590" y="542">36</text><text class="t" x="590" y="594">37</text><text class="t" x="316" y="592">34</text><text class="t" x="302" y="663">35</text>
<text class="t" x="519" y="735">26</text><text class="t" x="569" y="747">25</text><text class="t" x="607" y="725" textLength="48">24 A</text><text class="t" x="604" y="780" textLength="46">24B</text>
<text class="t" x="1096" y="537">22</text><text class="t" x="1037" y="562">23</text><text class="t" x="975" y="602">21</text><text class="t" x="912" y="639">24</text><text class="t" x="709" y="580">20</text><text class="t" x="795" y="688">20</text>
<text class="t" x="404" y="912">6</text><text class="t" x="334" y="969">9</text><text class="t" x="1084" y="959">18</text><text class="t" x="1033" y="994">19</text><text class="t" x="978" y="1021">16</text><text class="t" x="914" y="1059">17</text><text class="t" x="837" y="1121">1</text>
<text class="t" x="232" y="1053">10</text><text class="t" x="186" y="1073">11</text><text class="t" x="138" y="1092">15</text><text class="t" x="87" y="1123">12</text><text class="t" x="473" y="1242">7</text>
<text class="t" x="712" y="1180">52</text><text class="t" x="781" y="1236">51</text><text class="t" x="781" y="1286">50</text><text class="t" x="779" y="1342">49</text><text class="t" x="511" y="1319">53</text><text class="t" x="511" y="1383">55</text><text class="t" x="510" y="1444">54</text>
<text class="t" x="108" y="1451">13</text><text class="t" x="164" y="1414">14</text><text class="t" x="285" y="1427">4</text><text class="t" x="330" y="1411">5</text><text class="t" x="386" y="1380">2</text><text class="t" x="442" y="1358">3</text>
</g>
<text class="c" x="990" y="196" textLength="76">適用号機</text>
<text class="m" x="990" y="215" textLength="143">Serial No. 1063~</text>
<text class="c" x="625" y="531" textLength="74">適用号機</text>
<text class="m" x="624" y="551" textLength="143">Serial No. 1007~</text>
<text class="c" x="155" y="913" textLength="76">適用号機</text>
<text class="m" x="154" y="932" textLength="146">Serial No. 1063~</text>
<text class="c" x="230" y="436" style="font-size:11px;font-weight:400" textLength="38">インレット</text>
<text class="m" x="230" y="457" style="font-size:15px" textLength="32">Inlet</text>
<text class="c" x="1001" y="492" style="font-size:11px;font-weight:400" textLength="45">アウトレット</text>
<text class="m" x="1000" y="512" style="font-size:15px" textLength="45">Outlet</text>
</svg>
</body></html>
